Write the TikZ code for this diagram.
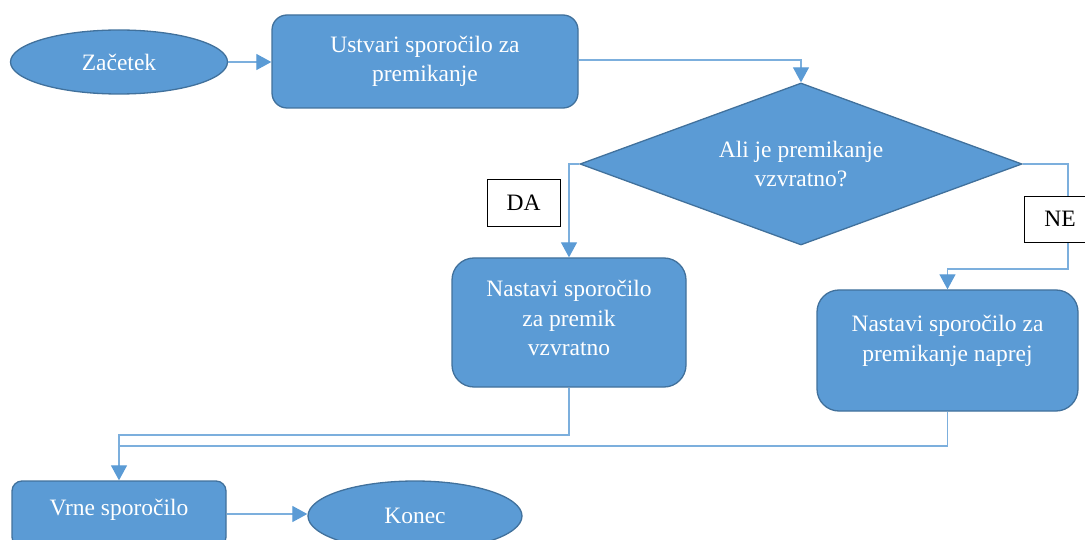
\documentclass[tikz,border=0pt]{standalone}
\usepackage{fontspec}
\setmainfont{Liberation Serif}
\usetikzlibrary{shapes.geometric,arrows.meta}
\definecolor{shapefill}{HTML}{5B9BD5}
\definecolor{shapeline}{HTML}{41719C}
\definecolor{linkcol}{HTML}{5B9BD5}

\begin{document}
\begin{tikzpicture}[x=1pt,y=-1pt,
  font=\fontsize{23.5}{29.5}\selectfont,
  proc/.style={draw=shapeline, line width=1.3pt, fill=shapefill, text=white,
    align=center, inner sep=0pt, rounded corners=#1},
  proc/.default=16pt,
  term/.style={ellipse, draw=shapeline, line width=1.3pt, fill=shapefill,
    text=white, inner sep=0pt},
  decision/.style={diamond, aspect=2.73, draw=shapeline, line width=1.3pt,
    fill=shapefill, text=white, align=center, inner sep=0pt,
    minimum width=442pt, minimum height=162pt},
  txt/.style={text=white, align=center, inner sep=0pt},
  tag/.style={draw=black, line width=0.8pt, fill=white, text=black,
    minimum width=73pt, minimum height=47pt, inner sep=0pt},
  link/.style={draw=linkcol!80, line width=1.2pt},
  arrow/.style={link, -{Triangle[width=16pt,length=15pt,color=linkcol]}}]

\useasboundingbox (0,0) rectangle (1085,540);

% shapes of the flow
\node[term, minimum width=217pt, minimum height=64pt] (start) at (119,62) {Začetek};
\node[proc=15pt, minimum width=306pt, minimum height=93pt] (make) at (425,61.5)
  {Ustvari sporočilo za\\premikanje};
\node[decision] (ask) at (801,164) {Ali je premikanje\\vzvratno?};
\node[proc=22pt, minimum width=234pt, minimum height=129pt] (back) at (569,322.5) {};
\node[txt] (backtext) at (569,318) {Nastavi sporočilo\\za premik\\vzvratno};
\node[proc=22pt, minimum width=261pt, minimum height=121pt] (fwd) at (947.5,350.5) {};
\node[txt] (fwdtext) at (947.5,341) {Nastavi sporočilo za\\premikanje naprej};
\node[proc=10pt, minimum width=214pt, minimum height=66pt] (give) at (119,514) {};
\node[txt] (givetext) at (119,510) {Vrne sporočilo};
\node[term, minimum width=214pt, minimum height=70pt] (end) at (415,516) {Konec};

% bends of the connectors
\coordinate (noTurn) at (1068,269);
\coordinate (joinA) at (119,435);
\coordinate (joinB) at (119,446);

% connectors
\draw[arrow] (start.east) -- (start.east -| make.west);
\draw[arrow] ([yshift=1.5pt]make.east) -| (ask.north);
\draw[arrow] (ask.west) -| (back.north);
\draw[arrow] (ask.east) -| (noTurn) -| (fwd.north);
\draw[link] (fwd.south) |- (joinB);
\draw[arrow] (back.south) |- (joinA) -- (give.north);
\draw[arrow] (give.east) -- (give.east -| end.west);

% branch labels
\node[tag] (yes) at (523.5,203) {DA};
\node[tag, minimum width=72pt, minimum height=46pt] (no) at (1060,219) {NE};
\end{tikzpicture}
\end{document}
